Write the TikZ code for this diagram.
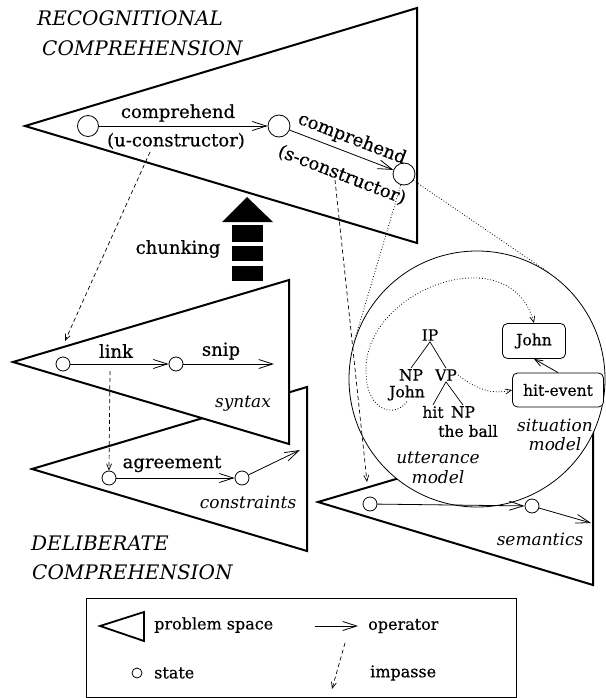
\documentclass[tikz,border=0pt]{standalone}
\usepackage{fontspec}
\setmainfont{DejaVu Serif}[UprightFeatures={FakeBold=0.5}]
\usetikzlibrary{arrows.meta,calc}
\begin{document}
\begin{tikzpicture}[x=1pt,y=-1pt,
  space/.style={line width=2pt, fill=white, line join=miter},
  st/.style={circle, draw, line width=0.8pt, minimum size=#1, inner sep=0pt, fill=white},
  op/.style={line width=0.8pt, -{Straight Barb[length=14pt,width=9pt,line width=0.8pt]}},
  opsmall/.style={line width=0.8pt, -{Straight Barb[length=8pt,width=6pt,line width=0.8pt]}},
  imp/.style={dashed, dash pattern=on 4pt off 3pt, line width=0.7pt, -{Straight Barb[length=6pt,width=5pt,line width=0.7pt]}},
  dot/.style={dotted, line width=0.8pt},
  dotarr/.style={dotted, line width=0.8pt, -{Straight Barb[length=6pt,width=5pt,line width=0.7pt]}},
  lab/.style={font=\fontsize{18}{20}\selectfont, inner sep=1pt},
  tr/.style={font=\fontsize{15.5}{17}\selectfont, inner sep=1pt},
  itl/.style={font=\fontsize{17}{19.5}\selectfont\itshape, inner sep=1pt, align=center},
  head/.style={font=\fontsize{20}{22}\selectfont\itshape, inner sep=0pt, anchor=west},
  leg/.style={font=\fontsize{16}{18}\selectfont, inner sep=0pt, anchor=west},
  box/.style={draw, rounded corners=5pt, line width=0.8pt, fill=white, font=\fontsize{15.5}{17}\selectfont, inner sep=0pt}
]
\useasboundingbox (0,0) rectangle (605,698);

% ---------- recognitional space ----------
\draw[space] (25,126) -- (417,8) -- (417,243) -- cycle;
\node[head] (rec1) at (37,18) {RECOGNITIONAL};
\node[head] (rec2) at (42,48) {COMPREHENSION};
\node[st=21pt] (t1) at (88,126) {};
\node[st=22pt] (t2) at (279,126) {};
\node[st=22pt] (t3) at (404,174) {};
\draw[op] (t1) -- (t2);
\node[lab] (uc1) at (178,113) {comprehend};
\node[lab] (uc2) at (176,141) {(u-constructor)};
\draw[op] (t2) -- (t3);
\node[lab, rotate=-21] (sc1) at (352,139) {comprehend};
\node[lab, rotate=-21] (sc2) at (342,175) {(s-constructor)};

% ---------- chunking arrow ----------
\fill (222,222) -- (247,197) -- (273,222) -- cycle;
\fill (232,225) rectangle (263,242);
\fill (232,246) rectangle (263,261);
\fill (232,266) rectangle (263,281);
\node[lab] (chunk) at (178,249) {chunking};

% ---------- constraints space ----------
\draw[space] (32,469) -- (307,387) -- (307,551) -- cycle;
% ---------- syntax space ----------
\draw[space] (13,362) -- (289,280) -- (289,444) -- cycle;
\node[st=14pt] (sy1) at (63,364) {};
\node[st=14pt] (sy2) at (176,364) {};
\coordinate (sy3) at (274,364);
\draw[op] (sy1) -- (sy2);
\draw[op] (sy2) -- (sy3);
\node[lab] (link) at (116,351) {link};
\node[lab] (snip) at (221,351) {snip};
\node[itl] (syn) at (243,404) {syntax};

\node[st=14pt] (c1) at (109,478) {};
\node[st=14pt] (c2) at (242,478) {};
\coordinate (c3) at (300,450);
\draw[op] (c1) -- (c2);
\draw[op] (c2) -- (c3);
\node[lab] (agr) at (172,464) {agreement};
\node[itl] (con) at (248,502) {constraints};

\node[head] (del1) at (31,543) {DELIBERATE};
\node[head] (del2) at (32,572) {COMPREHENSION};

% ---------- semantics space ----------
\draw[space] (318,502) -- (593,421) -- (593,585) -- cycle;
\node[circle, draw, line width=0.8pt, fill=white, minimum size=256pt, inner sep=0pt] (world) at (477,379) {};
\node[st=14pt] (s1) at (370,504) {};
\node[st=14pt] (s2) at (532,506) {};
\coordinate (s3) at (591,523);
\draw[op] (s1) -- (s2);
\draw[op] (s2) -- (s3);
\node[itl] (sem) at (540,539) {semantics};

% ---------- utterance / situation model ----------
\node[tr] (ip) at (430,335) {IP};
\node[tr] (np) at (411,375) {NP};
\node[tr] (vp) at (446,375) {VP};
\node[tr] (john) at (407,393) {John};
\node[tr] (hit) at (433,412) {hit};
\node[tr] (np2) at (463,412) {NP};
\node[tr] (ball) at (468,431) {the ball};
\draw[line width=0.7pt] (ip.south) -- (np.north);
\draw[line width=0.7pt] (ip.south) -- (vp.north);
\draw[line width=0.7pt] (vp.south) -- (hit.north);
\draw[line width=0.7pt] (vp.south) -- (np2.north);
\node[box, minimum width=63pt, minimum height=35pt] (jb) at (534,341) {John};
\node[box, minimum width=91pt, minimum height=34pt] (he) at (558,390) {hit-event};
\draw[opsmall] (he.north) -- (jb.south);
\draw[dotarr] (vp.east) .. controls (480,392) and (495,394) .. (he.west);
\draw[dotarr] (john.south) .. controls (395,418) and (367,412) .. (366,373)
   .. controls (362,290) and (510,235) .. (jb.north);
\node[itl] (sit) at (555,435) {situation\\model};
\node[itl] (utt) at (438,468) {utterance\\model};

% ---------- impasses and expansion ----------
\coordinate (imp1) at (150,152);
\coordinate (imp1e) at (65,341);
\draw[imp] (imp1) -- (imp1e);
\coordinate (imp2) at (110,371);
\draw[imp] (imp2) -- (c1.north);
\coordinate (imp3) at (335,180);
\coordinate (imp3e) at (367,482);
\draw[imp] (imp3) -- (imp3e);
\draw[dot] (t3) -- (tangent cs:node=world,point={(t3)},solution=1);
\draw[dot] (t3) -- (tangent cs:node=world,point={(t3)},solution=2);

% ---------- legend ----------
\draw[line width=0.8pt] (86,598) rectangle (516,697.5);
\draw[line width=1.8pt, line join=miter] (100,626) -- (144,612) -- (144,641) -- cycle;
\node[leg] (lps) at (154,625) {problem space};
\coordinate (lo1) at (315,626);
\coordinate (lo2) at (358,626);
\draw[op] (lo1) -- (lo2);
\node[leg] (lop) at (368,626) {operator};
\node[st=10pt] (lst) at (137,673) {};
\node[leg] (lsl) at (154,673) {state};
\coordinate (li1) at (345,643);
\coordinate (li2) at (332,689);
\draw[imp] (li1) -- (li2);
\node[leg] (lim) at (370,673) {impasse};
\end{tikzpicture}
\end{document}
